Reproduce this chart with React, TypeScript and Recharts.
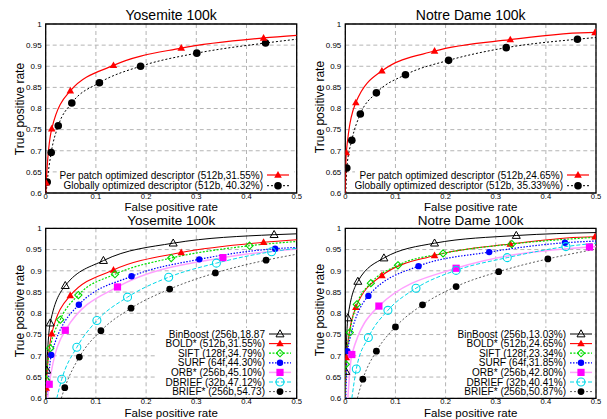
import React from "react";
import { LineChart, Line, XAxis, YAxis, CartesianGrid, ReferenceArea } from "recharts";

type Pt = [number, number];

const xTicks = [0, 0.1, 0.2, 0.3, 0.4, 0.5];
const yTicks = [0.6, 0.65, 0.7, 0.75, 0.8, 0.85, 0.9, 0.95, 1];

const titles = ["Yosemite 100k", "Notre Dame 100k"];
const xLabel = "False positive rate";
const yLabel = "True positive rate";

// markers, plus where each curve enters / leaves the frame
const yosBold: Pt[] = [[0.001, 0.624], [0.012, 0.752], [0.049, 0.842], [0.135, 0.902], [0.27, 0.943], [0.434, 0.967]];
const yosBoldEnds: Pt[] = [[0, 0.6], [0.5, 0.973]];
const yosGlobal: Pt[] = [[0.003, 0.626], [0.011, 0.696], [0.025, 0.759], [0.052, 0.813], [0.107, 0.861], [0.189, 0.9], [0.301, 0.931], [0.438, 0.955]];
const yosGlobalEnds: Pt[] = [[0.001, 0.6], [0.5, 0.964]];

const ndBold: Pt[] = [[0.002, 0.696], [0.021, 0.814], [0.073, 0.889], [0.178, 0.936], [0.329, 0.963], [0.498, 0.98]];
const ndBoldEnds: Pt[] = [[0, 0.6], [0.5, 0.98]];
const ndGlobal: Pt[] = [[0.003, 0.659], [0.013, 0.725], [0.03, 0.787], [0.062, 0.837], [0.12, 0.88], [0.206, 0.914], [0.321, 0.944], [0.463, 0.964]];
const ndGlobalEnds: Pt[] = [[0.001, 0.6], [0.5, 0.968]];

const yosBinBoost: Pt[] = [[0.002, 0.666], [0.009, 0.777], [0.039, 0.865], [0.115, 0.924], [0.254, 0.965], [0.455, 0.985]];
const yosBinBoostEnds: Pt[] = [[0, 0.6], [0.5, 0.987]];
const yosSift: Pt[] = [[0.001, 0.643], [0.009, 0.718], [0.029, 0.785], [0.065, 0.843], [0.138, 0.892], [0.25, 0.93], [0.406, 0.959]];
const yosSiftEnds: Pt[] = [[0, 0.6], [0.5, 0.969]];
const yosSurf: Pt[] = [[0.011, 0.702], [0.066, 0.82], [0.171, 0.887], [0.306, 0.927], [0.457, 0.952]];
const yosSurfEnds: Pt[] = [[0.003, 0.6], [0.5, 0.955]];
const yosOrb: Pt[] = [[0.007, 0.633], [0.039, 0.76], [0.143, 0.862], [0.353, 0.931]];
const yosOrbEnds: Pt[] = [[0.004, 0.6], [0.5, 0.951]];
const yosDbrief: Pt[] = [[0.032, 0.645], [0.062, 0.72], [0.102, 0.783], [0.163, 0.838], [0.245, 0.885], [0.34, 0.918], [0.45, 0.945]];
const yosDbriefEnds: Pt[] = [[0.022, 0.6], [0.5, 0.953]];
const yosBrief: Pt[] = [[0.038, 0.625], [0.067, 0.697], [0.11, 0.759], [0.17, 0.812], [0.247, 0.857], [0.338, 0.895], [0.439, 0.925]];
const yosBriefEnds: Pt[] = [[0.031, 0.6], [0.5, 0.939]];

const ndBinBoost: Pt[] = [[0.001, 0.663], [0.005, 0.789], [0.025, 0.875], [0.077, 0.93], [0.178, 0.965], [0.341, 0.983]];
const ndBinBoostEnds: Pt[] = [[0, 0.6], [0.5, 0.99]];
const ndSift: Pt[] = [[0.001, 0.68], [0.009, 0.755], [0.023, 0.821], [0.051, 0.871], [0.105, 0.913], [0.195, 0.941], [0.332, 0.963]];
const ndSiftEnds: Pt[] = [[0, 0.6], [0.5, 0.979]];
const ndSurf: Pt[] = [[0.004, 0.711], [0.046, 0.841], [0.146, 0.911], [0.287, 0.944], [0.438, 0.966]];
const ndSurfEnds: Pt[] = [[0.001, 0.6], [0.5, 0.97]];
const ndOrb: Pt[] = [[0.013, 0.703], [0.067, 0.817], [0.221, 0.906], [0.487, 0.956]];
const ndOrbEnds: Pt[] = [[0.005, 0.6], [0.5, 0.957]];
const ndDbrief: Pt[] = [[0.022, 0.669], [0.046, 0.743], [0.085, 0.807], [0.141, 0.859], [0.221, 0.901], [0.323, 0.931], [0.44, 0.957]];
const ndDbriefEnds: Pt[] = [[0.013, 0.6], [0.5, 0.965]];
const ndBrief: Pt[] = [[0.035, 0.645], [0.062, 0.711], [0.1, 0.768], [0.154, 0.82], [0.221, 0.863], [0.306, 0.898], [0.404, 0.928]];
const ndBriefEnds: Pt[] = [[0.024, 0.6], [0.5, 0.951]];

const yosTopNames = ["Per patch optimized descriptor (512b,31.55%)", "Globally optimized descriptor (512b, 40.32%)"];
const ndTopNames = ["Per patch optimized descriptor (512b,24.65%)", "Globally optimized descriptor (512b, 35.33%%)"];
const yosAllNames = ["BinBoost (256b,18.87", "BOLD* (512b,31.55%)", "SIFT (128f,34.79%)", "SURF (64f,44.30%)", "ORB* (256b,45.10%)", "DBRIEF (32b,47.12%)", "BRIEF* (256b,54.73)"];
const ndAllNames = ["BinBoost (256b,13.03%)", "BOLD* (512b,24.65%)", "SIFT (128f,23.34%)", "SURF (64f,31.85%)", "ORB* (256b,42.80%)", "DBRIEF (32b,40.41%)", "BRIEF* (256b,50.87%)"];

type Style = { stroke: string; dash?: string; width: number; marker: string; color: string; s: number };

const perPatchStyle: Style = { stroke: "#ff0000", width: 1.2, marker: "tri", color: "#ff0000", s: 3.6 };
const globalStyle: Style = { stroke: "#000", dash: "2 2", width: 1, marker: "dot", color: "#000", s: 3.8 };
const allStyles: Style[] = [
  { stroke: "#000", width: 1, marker: "triOpen", color: "#000", s: 3.8 },
  { stroke: "#ff0000", width: 1.1, marker: "tri", color: "#ff0000", s: 3.6 },
  { stroke: "#00e000", dash: "2 1.5", width: 1.2, marker: "diamond", color: "#00d800", s: 3.6 },
  { stroke: "#0000ff", dash: "1.5 1.5", width: 1.2, marker: "dot", color: "#0000ff", s: 3.2 },
  { stroke: "#ffa0ff", width: 1.5, marker: "square", color: "#ff00ff", s: 3.6 },
  { stroke: "#00d8e8", dash: "4 2", width: 1, marker: "ring", color: "#00d8e8", s: 4 },
  { stroke: "#333", dash: "2 2", width: 0.8, marker: "dot", color: "#000", s: 3.4 },
];

const font = "Liberation Sans, Arial, sans-serif";

const toPts = (a: Pt[]) => a.map(([x, y]) => ({ x, y }));
const curve = (pts: Pt[], ends: Pt[]) => toPts([ends[0], ...pts, ends[1]]);

function Marker({ kind, cx, cy, color, s }: { kind: string; cx: number; cy: number; color: string; s: number }) {
  if (kind === "tri" || kind === "triOpen") {
    const p = `${cx},${cy - s * 1.1} ${cx + s * 1.05},${cy + s * 0.75} ${cx - s * 1.05},${cy + s * 0.75}`;
    return kind === "tri" ? <polygon points={p} fill={color} /> : <polygon points={p} fill="none" stroke={color} strokeWidth={1} />;
  }
  if (kind === "diamond") {
    const p = `${cx},${cy - s} ${cx + s},${cy} ${cx},${cy + s} ${cx - s},${cy}`;
    return <polygon points={p} fill="none" stroke={color} strokeWidth={1.1} />;
  }
  if (kind === "square") return <rect x={cx - s} y={cy - s} width={s * 2} height={s * 2} fill={color} />;
  if (kind === "ring") return <circle cx={cx} cy={cy} r={s} fill="none" stroke={color} strokeWidth={1.1} />;
  return <circle cx={cx} cy={cy} r={s} fill={color} />;
}

type Series = { pts: Pt[]; ends: Pt[]; style: Style };

function Panel({ left, top, width, height, margin, series }: { left: number; top: number; width: number; height: number; margin: any; series: Series[] }) {
  return (
    <div style={{ position: "absolute", left, top }}>
      <LineChart width={width} height={height} margin={margin}>
        <CartesianGrid stroke="#b4b4b4" strokeDasharray="4 3" horizontalValues={yTicks} verticalValues={xTicks} />
        <XAxis
          type="number"
          dataKey="x"
          domain={[0, 0.5]}
          ticks={xTicks}
          interval={0}
          allowDataOverflow
          height={12}
          axisLine={false}
          tickLine={false}
          tickSize={0.8}
          tickMargin={0}
          tick={{ fontSize: 7.6, fill: "#000", fontFamily: font }}
        />
        <YAxis
          type="number"
          domain={[0.6, 1]}
          ticks={yTicks}
          interval={0}
          allowDataOverflow
          width={40}
          axisLine={false}
          tickLine={false}
          tickSize={4}
          tickMargin={0}
          tick={{ fontSize: 8, fill: "#000", fontFamily: font }}
        />
        {series.map((s, i) => (
          <Line
            key={`c${i}`}
            data={curve(s.pts, s.ends)}
            dataKey="y"
            type="monotone"
            stroke={s.style.stroke}
            strokeWidth={s.style.width}
            strokeDasharray={s.style.dash}
            dot={false}
            activeDot={false}
            isAnimationActive={false}
          />
        ))}
        {series.map((s, i) => (
          <Line
            key={`m${i}`}
            data={toPts(s.pts)}
            dataKey="y"
            stroke="none"
            activeDot={false}
            isAnimationActive={false}
            dot={(p: any) => (
              <g key={`d${i}-${p.index}`}>
                <Marker kind={s.style.marker} cx={p.cx} cy={p.cy} color={s.style.color} s={s.style.s} />
              </g>
            )}
          />
        ))}
        <ReferenceArea x1={0} x2={0.5} y1={0.6} y2={1} fill="none" stroke="#000" strokeWidth={1.3} ifOverflow="visible" />
      </LineChart>
    </div>
  );
}

function Key({ names, styles, textRight, y0, rowH, box }: { names: string[]; styles: Style[]; textRight: number; y0: number; rowH: number; box: number[] }) {
  const [bx, by, bw, bh] = box;
  return (
    <svg style={{ position: "absolute", left: bx, top: by }} width={bw} height={bh}>
      <rect x={0} y={0} width={bw} height={bh} fill="#fff" />
      {names.map((n, i) => {
        const y = y0 + i * rowH - by;
        const st = styles[i];
        const lx = textRight - bx;
        return (
          <g key={n}>
            <text x={lx} y={y} dy="0.35em" textAnchor="end" fontSize={10} fontFamily={font} fill="#000">
              {n}
            </text>
            <line x1={lx + 4} x2={lx + 26} y1={y} y2={y} stroke={st.stroke} strokeWidth={st.width} strokeDasharray={st.dash} />
            <Marker kind={st.marker} cx={lx + 15} cy={y} color={st.color} s={st.s} />
          </g>
        );
      })}
    </svg>
  );
}

function Label({ x, y, text, size, rotate }: { x: number; y: number; text: string; size: number; rotate?: boolean }) {
  return (
    <div
      style={{
        position: "absolute",
        left: x,
        top: y,
        transform: `translate(-50%, -50%)${rotate ? " rotate(-90deg)" : ""}`,
        fontSize: size,
        lineHeight: 0.9,
        whiteSpace: "nowrap",
        fontFamily: font,
        color: "#000",
      }}
    >
      {text}
    </div>
  );
}

export default function App() {
  const topMarginL = { top: 24, right: 6.3, left: 5.7, bottom: 0 };
  const topMarginR = { top: 24, right: 11, left: 2.3, bottom: 0 };
  const botMarginL = { top: 18.3, right: 6.3, left: 5.7, bottom: 8.7 };
  const botMarginR = { top: 18.3, right: 11, left: 2.3, bottom: 8.7 };

  const yosAll: Series[] = [
    { pts: yosBinBoost, ends: yosBinBoostEnds, style: allStyles[0] },
    { pts: yosBold, ends: yosBoldEnds, style: allStyles[1] },
    { pts: yosSift, ends: yosSiftEnds, style: allStyles[2] },
    { pts: yosSurf, ends: yosSurfEnds, style: allStyles[3] },
    { pts: yosOrb, ends: yosOrbEnds, style: allStyles[4] },
    { pts: yosDbrief, ends: yosDbriefEnds, style: allStyles[5] },
    { pts: yosBrief, ends: yosBriefEnds, style: allStyles[6] },
  ];
  const ndAll: Series[] = [
    { pts: ndBinBoost, ends: ndBinBoostEnds, style: allStyles[0] },
    { pts: ndBold, ends: ndBoldEnds, style: allStyles[1] },
    { pts: ndSift, ends: ndSiftEnds, style: allStyles[2] },
    { pts: ndSurf, ends: ndSurfEnds, style: allStyles[3] },
    { pts: ndOrb, ends: ndOrbEnds, style: allStyles[4] },
    { pts: ndDbrief, ends: ndDbriefEnds, style: allStyles[5] },
    { pts: ndBrief, ends: ndBriefEnds, style: allStyles[6] },
  ];

  return (
    <div style={{ position: "absolute", left: 0, top: 0, width: 607, height: 419, background: "#fff", overflow: "hidden" }}>
      <Panel
        left={0}
        top={0}
        width={303}
        height={205}
        margin={topMarginL}
        series={[
          { pts: yosGlobal, ends: yosGlobalEnds, style: globalStyle },
          { pts: yosBold, ends: yosBoldEnds, style: perPatchStyle },
        ]}
      />
      <Panel
        left={303}
        top={0}
        width={304}
        height={205}
        margin={topMarginR}
        series={[
          { pts: ndGlobal, ends: ndGlobalEnds, style: globalStyle },
          { pts: ndBold, ends: ndBoldEnds, style: perPatchStyle },
        ]}
      />
      <Panel left={0} top={210} width={303} height={209} margin={botMarginL} series={yosAll} />
      <Panel left={303} top={210} width={304} height={209} margin={botMarginR} series={ndAll} />

      <Key names={yosTopNames} styles={[perPatchStyle, globalStyle]} textRight={263} y0={175} rowH={10.7} box={[57, 169, 237, 23]} />
      <Key names={ndTopNames} styles={[perPatchStyle, globalStyle]} textRight={563} y0={175} rowH={10.7} box={[355, 169, 239, 23]} />
      <Key names={yosAllNames} styles={allStyles} textRight={265} y0={334} rowH={9.6} box={[157, 328, 138, 69]} />
      <Key names={ndAllNames} styles={allStyles} textRight={566} y0={334} rowH={9.6} box={[447, 328, 147, 69]} />

      <Label x={171.2} y={15} text={titles[0]} size={14} />
      <Label x={470.7} y={15} text={titles[1]} size={14} />
      <Label x={171.2} y={221.4} text={titles[0]} size={13.5} />
      <Label x={470.7} y={221.4} text={titles[1]} size={13.5} />
      <Label x={171.2} y={207.4} text={xLabel} size={11.5} />
      <Label x={470.7} y={207.4} text={xLabel} size={11.5} />
      <Label x={171.2} y={412.6} text={xLabel} size={11.5} />
      <Label x={470.7} y={412.6} text={xLabel} size={11.5} />
      <Label x={20} y={108.5} text={yLabel} size={12} rotate />
      <Label x={320} y={107} text={yLabel} size={12} rotate />
      <Label x={20} y={311} text={yLabel} size={12} rotate />
      <Label x={320} y={310} text={yLabel} size={12} rotate />
    </div>
  );
}
